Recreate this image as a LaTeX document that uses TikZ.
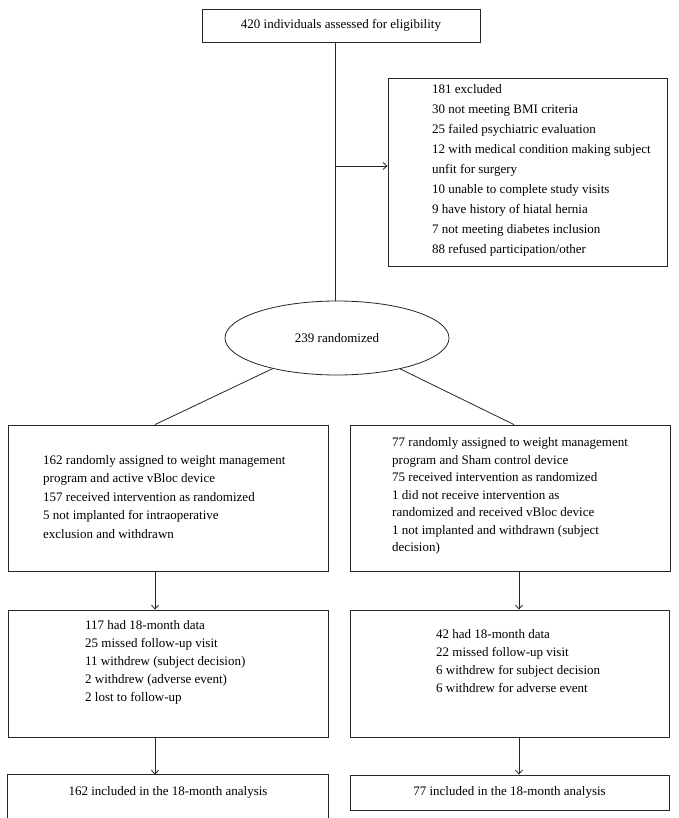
\documentclass[tikz,border=0pt]{standalone}
\usepackage{fontspec}
\setmainfont{Liberation Serif}
\usetikzlibrary{shapes.geometric,arrows.meta}
\begin{document}
\begin{tikzpicture}[x=1pt,y=-1pt,
  font=\fontsize{13}{18.5}\selectfont,
  box/.style={draw=black!85, line width=0.8pt, rectangle, inner sep=0pt},
  txt/.style={inner sep=0pt, align=left},
  conn/.style={draw=black!85, line width=0.8pt},
  arr/.style={conn, -{Straight Barb[length=4pt,width=7pt]}},
  ]
\useasboundingbox[fill=white] (0,0) rectangle (678,818);
% top
\node[box, minimum width=278, minimum height=33] (top) at (341,25.5) {420 individuals assessed for eligibility};
% exclusion
\node[box, minimum width=279, minimum height=188] (excl) at (527.5,172) {};
\node[txt, anchor=west, font=\fontsize{13}{20}\selectfont] (exclt) at (432,170) {181 excluded\\30 not meeting BMI criteria\\25 failed psychiatric evaluation\\12 with medical condition making subject\\unfit for surgery\\10 unable to complete study visits\\9 have history of hiatal hernia\\7 not meeting diabetes inclusion\\88 refused participation/other};
% ellipse
\node[ellipse, draw=black!85, line width=0.8pt, minimum width=224, minimum height=74, inner sep=0pt] (ell) at (337,338) {239 randomized};
% first row
\node[box, minimum width=320, minimum height=146] (b1l) at (168,498) {};
\node[txt, anchor=west] (b1lt) at (43,497) {162 randomly assigned to weight management\\program and active vBloc device\\157 received intervention as randomized\\5 not implanted for intraoperative\\exclusion and withdrawn};
\node[box, minimum width=320, minimum height=146] (b1r) at (510,498) {};
\node[txt, anchor=west, font=\fontsize{13}{17.5}\selectfont] (b1rt) at (392,496) {77 randomly assigned to weight management\\program and Sham control device\\75 received intervention as randomized\\1 did not receive intervention as\\randomized and received vBloc device\\1 not implanted and withdrawn (subject\\decision)};
% second row
\node[box, minimum width=320, minimum height=127] (b2l) at (168,673.5) {};
\node[txt, anchor=north west, font=\fontsize{13}{18}\selectfont] (b2lt) at (85,620) {117 had 18-month data\\25 missed follow-up visit\\11 withdrew (subject decision)\\2 withdrew (adverse event)\\2 lost to follow-up};
\node[box, minimum width=319, minimum height=127] (b2r) at (509.5,673.5) {};
\node[txt, anchor=north west, font=\fontsize{13}{18}\selectfont] (b2rt) at (436,629) {42 had 18-month data\\22 missed follow-up visit\\6 withdrew for subject decision\\6 withdrew for adverse event};
% third row
\node[inner sep=0pt, minimum width=320, minimum height=35] (b3l) at (168,792.5) {162 included in the 18-month analysis};
\node[box, minimum width=319, minimum height=35] (b3r) at (509.5,792.5) {77 included in the 18-month analysis};
% helper coordinates
\coordinate (j) at (335,166);
\coordinate (lc) at (155,0);
\coordinate (rc) at (519,0);
\coordinate (re) at (514,0);
\coordinate (bl) at (0,818);
% connectors
\draw[conn] (top.south -| j) -- (j |- ell.north);
\draw[arr] (j) -- (j -| excl.west);
\draw[conn] (ell) -- (b1l.north -| lc);
\draw[conn] (ell) -- (b1r.north -| re);
\draw[arr] (b1l.south -| lc) -- (b2l.north -| lc);
\draw[arr] (b1r.south -| rc) -- (b2r.north -| rc);
\draw[arr] (b2l.south -| lc) -- (b3l.north -| lc);
\draw[arr] (b2r.south -| rc) -- (b3r.north -| rc);
\draw[conn] (b3l.north west |- bl) -- (b3l.north west) -- (b3l.north east) -- (b3l.north east |- bl);
\end{tikzpicture}
\end{document}
